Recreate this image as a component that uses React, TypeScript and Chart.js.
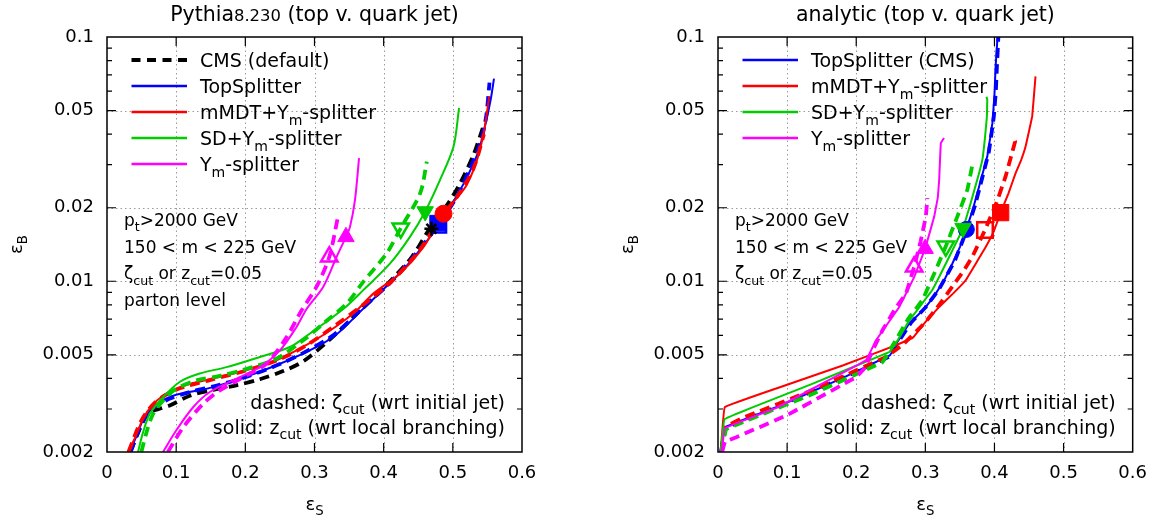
import React, { useEffect, useRef } from 'react';
import { Chart, registerables } from 'chart.js';
Chart.register(...registerables);

const FONT = "'DejaVu Sans', sans-serif";
Chart.defaults.font.family = FONT;

const BLUE = '#0000ff';
const RED = '#ff0000';
const GREEN = '#00cc00';
const MAGENTA = '#ff00ff';
const BLACK = '#000000';

// ---------- axes ----------
const X_TICKS = [0, 0.1, 0.2, 0.3, 0.4, 0.5, 0.6];
const X_TICK_LABELS = ['0', '0.1', '0.2', '0.3', '0.4', '0.5', '0.6'];
const X_GRID = [0.1, 0.2, 0.3, 0.4, 0.5];
const Y_TICKS = [0.002, 0.005, 0.01, 0.02, 0.05, 0.1];
const Y_TICK_LABELS = ['0.002', '0.005', '0.01', '0.02', '0.05', '0.1'];
const Y_GRID = [0.005, 0.01, 0.02, 0.05];
const Y_MINOR = [0.003, 0.004, 0.006, 0.007, 0.008, 0.009, 0.03, 0.04, 0.06, 0.07, 0.08, 0.09];

type Pt = [number, number];

// ---------- Pythia panel (eps_S, eps_B) ----------
const pyCmsDashed: Pt[] = [[0.034, 0.002], [0.045, 0.0024], [0.059, 0.00288], [0.075, 0.003], [0.0907, 0.0031], [0.1196, 0.0034], [0.1486, 0.00357], [0.187, 0.00375], [0.221, 0.00397], [0.2547, 0.00429], [0.2837, 0.0047], [0.32, 0.0057], [0.36, 0.0073], [0.40, 0.0094], [0.44, 0.0125], [0.467, 0.0165], [0.49, 0.0202], [0.51, 0.025], [0.53, 0.033], [0.544, 0.043]];
const pyTopSolid: Pt[] = [[0.0327, 0.002], [0.042, 0.0023], [0.052, 0.0027], [0.0665, 0.00305], [0.08, 0.00325], [0.1, 0.00343], [0.149, 0.00366], [0.197, 0.00403], [0.245, 0.00453], [0.293, 0.00521], [0.33, 0.006], [0.368, 0.0076], [0.40, 0.0093], [0.43, 0.0113], [0.46, 0.0143], [0.478, 0.0168], [0.50, 0.021], [0.52, 0.0265], [0.537, 0.034], [0.548, 0.045], [0.555, 0.056], [0.5595, 0.0676]];
const pyTopDashed: Pt[] = [[0.034, 0.002], [0.05, 0.0026], [0.065, 0.003], [0.09, 0.0033], [0.12, 0.00352], [0.16, 0.00375], [0.2, 0.00405], [0.25, 0.00458], [0.29, 0.0052], [0.33, 0.0061], [0.37, 0.0078], [0.41, 0.0099], [0.445, 0.0128], [0.48, 0.0172], [0.505, 0.022], [0.525, 0.029], [0.54, 0.037], [0.548, 0.047], [0.553, 0.065]];
const pyMmdtSolid: Pt[] = [[0.0303, 0.002], [0.041, 0.0023], [0.052, 0.00273], [0.065, 0.0031], [0.081, 0.0034], [0.1, 0.00363], [0.1245, 0.00383], [0.149, 0.00397], [0.197, 0.00429], [0.245, 0.00475], [0.293, 0.00558], [0.33, 0.0065], [0.361, 0.0076], [0.385, 0.0089], [0.4237, 0.01076], [0.4575, 0.0138], [0.4865, 0.0189], [0.505, 0.0218], [0.52, 0.0248], [0.535, 0.0314], [0.545, 0.041], [0.5526, 0.0571]];
const pyMmdtDashed: Pt[] = [[0.031, 0.002], [0.05, 0.0027], [0.07, 0.0032], [0.1, 0.0036], [0.15, 0.00395], [0.2, 0.0043], [0.25, 0.0048], [0.29, 0.0055], [0.33, 0.0066], [0.37, 0.008], [0.41, 0.0099], [0.45, 0.0132], [0.485, 0.0185], [0.51, 0.023], [0.53, 0.029], [0.545, 0.04]];
const pySdSolid: Pt[] = [[0.0448, 0.002], [0.052, 0.0024], [0.0617, 0.00286], [0.081, 0.00335], [0.105, 0.00387], [0.134, 0.00419], [0.1728, 0.00445], [0.221, 0.0049], [0.2645, 0.00538], [0.293, 0.0061], [0.3416, 0.0077], [0.3705, 0.0092], [0.409, 0.0118], [0.438, 0.0152], [0.46, 0.0193], [0.4815, 0.026], [0.501, 0.0356], [0.509, 0.0512]];
const pySdDashed: Pt[] = [[0.0497, 0.002], [0.057, 0.0024], [0.0665, 0.00286], [0.0834, 0.0033], [0.1, 0.00363], [0.129, 0.00393], [0.163, 0.0041], [0.197, 0.00434], [0.245, 0.00482], [0.2837, 0.00573], [0.315, 0.0068], [0.3465, 0.0081], [0.3705, 0.00994], [0.4043, 0.013], [0.4247, 0.0165], [0.4527, 0.0229], [0.4624, 0.0309]];
const pyYmSolid: Pt[] = [[0.081, 0.002], [0.1, 0.00245], [0.1245, 0.00305], [0.1486, 0.00352], [0.182, 0.00393], [0.221, 0.00445], [0.25, 0.00521], [0.274, 0.0065], [0.2886, 0.0077], [0.3127, 0.0095], [0.332, 0.0126], [0.3455, 0.0152], [0.3513, 0.0167], [0.3585, 0.0215], [0.3644, 0.0319]];
const pyYmDashed: Pt[] = [[0.088, 0.002], [0.11, 0.00252], [0.139, 0.00315], [0.163, 0.00357], [0.197, 0.00405], [0.2307, 0.0046], [0.2597, 0.00591], [0.2813, 0.0076], [0.303, 0.0095], [0.3214, 0.0126], [0.3335, 0.0181]];

// working points (markers), Pythia
const pyCmsPoint: Pt = [0.469, 0.0164];
const pyTopPoint: Pt = [0.478, 0.0173];
const pyTopPointDashed: Pt = [0.481, 0.0168];
const pyMmdtPoint: Pt = [0.4865, 0.0189];
const pySdPoint: Pt = [0.46, 0.0193];
const pySdPointDashed: Pt = [0.4247, 0.0165];
const pyYmPoint: Pt = [0.3455, 0.0152];
const pyYmPointDashed: Pt = [0.3214, 0.0126];

// ---------- analytic panel ----------
const anTopSolid: Pt[] = [[0.003, 0.002], [0.0097, 0.00252], [0.0843, 0.00305], [0.17, 0.0039], [0.249, 0.00498], [0.257, 0.0055], [0.2766, 0.0067], [0.298, 0.0077], [0.315, 0.0089], [0.328, 0.0102], [0.339, 0.0118], [0.35, 0.0138], [0.3593, 0.0163], [0.369, 0.0198], [0.3777, 0.0244], [0.3896, 0.0324], [0.397, 0.0444], [0.4, 0.058], [0.4017, 0.0759], [0.405, 0.105]];
const anTopDashed: Pt[] = [[0.005, 0.002], [0.011, 0.0025], [0.09, 0.0031], [0.17, 0.0039], [0.247, 0.0049], [0.26, 0.0056], [0.28, 0.0068], [0.30, 0.0078], [0.32, 0.0093], [0.343, 0.0122], [0.362, 0.0168], [0.372, 0.0205], [0.38, 0.025], [0.392, 0.034], [0.399, 0.047], [0.402, 0.06], [0.4035, 0.075], [0.406, 0.105]];
const anMmdtSolid: Pt[] = [[0.004, 0.002], [0.0098, 0.00305], [0.0843, 0.00364], [0.1804, 0.00452], [0.2574, 0.00547], [0.282, 0.00588], [0.30, 0.0068], [0.32, 0.00785], [0.34, 0.0089], [0.3584, 0.0101], [0.3873, 0.0138], [0.399, 0.016], [0.409, 0.0191], [0.42, 0.0228], [0.4306, 0.0277], [0.438, 0.031], [0.445, 0.0356], [0.4546, 0.0473], [0.4594, 0.069]];
const anMmdtDashed: Pt[] = [[0.005, 0.002], [0.01, 0.00252], [0.036, 0.00276], [0.1275, 0.0035], [0.243, 0.0049], [0.269, 0.00555], [0.30, 0.0068], [0.32, 0.008], [0.339, 0.0095], [0.355, 0.011], [0.368, 0.0126], [0.3863, 0.0162], [0.403, 0.021], [0.416, 0.0268], [0.426, 0.034], [0.43, 0.0375], [0.427, 0.039]];
const anSdSolid: Pt[] = [[0.004, 0.002], [0.0097, 0.00273], [0.131, 0.00375], [0.2477, 0.00513], [0.257, 0.00555], [0.2765, 0.0069], [0.291, 0.0078], [0.31, 0.0092], [0.3346, 0.0126], [0.3545, 0.0165], [0.3656, 0.0209], [0.3777, 0.0277], [0.383, 0.032], [0.386, 0.038], [0.389, 0.047], [0.3896, 0.0554], [0.3885, 0.057]];
const anSdDashed: Pt[] = [[0.005, 0.002], [0.012, 0.00248], [0.131, 0.0034], [0.238, 0.00467], [0.255, 0.0056], [0.275, 0.007], [0.296, 0.0084], [0.315, 0.0111], [0.3296, 0.0139], [0.345, 0.018], [0.3608, 0.0237], [0.368, 0.03], [0.366, 0.031]];
const anYmSolid: Pt[] = [[0.006, 0.002], [0.0097, 0.0025], [0.0843, 0.00303], [0.15, 0.0038], [0.214, 0.00475], [0.2286, 0.00573], [0.2622, 0.00785], [0.2838, 0.0104], [0.2997, 0.0136], [0.3128, 0.0184], [0.318, 0.022], [0.32, 0.026], [0.3224, 0.0368], [0.327, 0.0386]];
const anYmDashed: Pt[] = [[0.006, 0.002], [0.01, 0.0022], [0.0265, 0.0023], [0.0987, 0.00282], [0.1997, 0.00405], [0.212, 0.0044], [0.225, 0.0053], [0.238, 0.0063], [0.2574, 0.0078], [0.272, 0.0089], [0.2838, 0.01146], [0.293, 0.0145], [0.3007, 0.0184], [0.303, 0.0219]];

const anTopPoint: Pt = [0.3593, 0.0163];
const anMmdtPoint: Pt = [0.409, 0.0191];
const anMmdtPointDashed: Pt = [0.3863, 0.0162];
const anSdPoint: Pt = [0.3545, 0.0165];
const anSdPointDashed: Pt = [0.3296, 0.0139];
const anYmPoint: Pt = [0.2997, 0.0136];
const anYmPointDashed: Pt = [0.2838, 0.01146];

// ---------- text ----------
type Seg = { t: string; sub?: boolean; small?: boolean };
const SEG_Ym = (rest: string): Seg[] => [{ t: 'Y' }, { t: 'm', sub: true }, { t: rest }];

interface LineSpec { data: Pt[]; color: string; dashed: boolean; z: number }
interface MarkSpec { at: Pt; color: string; style: string; filled: boolean; rot: number; r: number; z: number }
interface LegendSpec { segs: Seg[]; color: string; dashed: boolean }
interface PanelSpec {
  left: number; width: number; yWidth: number; padRight: number; tension: number;
  title: Seg[]; legend: LegendSpec[]; notes: Seg[][];
  lines: LineSpec[]; marks: MarkSpec[];
}

const NOTES_COMMON: Seg[][] = [
  [{ t: 'p' }, { t: 't', sub: true }, { t: '>2000 GeV' }],
  [{ t: '150 < m < 225 GeV' }],
  [{ t: 'ζ' }, { t: 'cut', sub: true }, { t: ' or z' }, { t: 'cut', sub: true }, { t: '=0.05' }],
];
const BOTTOM_NOTES: Seg[][] = [
  [{ t: 'dashed: ζ' }, { t: 'cut', sub: true }, { t: ' (wrt initial jet)' }],
  [{ t: 'solid: z' }, { t: 'cut', sub: true }, { t: ' (wrt local branching)' }],
];

const PYTHIA: PanelSpec = {
  left: 0, width: 579, yWidth: 107, padRight: 57, tension: 0.3,
  title: [{ t: 'Pythia' }, { t: '8.230', small: true }, { t: ' (top v. quark jet)' }],
  legend: [
    { segs: [{ t: 'CMS (default)' }], color: BLACK, dashed: true },
    { segs: [{ t: 'TopSplitter' }], color: BLUE, dashed: false },
    { segs: [{ t: 'mMDT+' }, ...SEG_Ym('-splitter')], color: RED, dashed: false },
    { segs: [{ t: 'SD+' }, ...SEG_Ym('-splitter')], color: GREEN, dashed: false },
    { segs: SEG_Ym('-splitter'), color: MAGENTA, dashed: false },
  ],
  notes: [...NOTES_COMMON, [{ t: 'parton level' }]],
  lines: [
    { data: pyCmsDashed, color: BLACK, dashed: true, z: 9 },
    { data: pyTopDashed, color: BLUE, dashed: true, z: 8 },
    { data: pyTopSolid, color: BLUE, dashed: false, z: 7 },
    { data: pyMmdtDashed, color: RED, dashed: true, z: 6 },
    { data: pyMmdtSolid, color: RED, dashed: false, z: 5 },
    { data: pySdDashed, color: GREEN, dashed: true, z: 4 },
    { data: pySdSolid, color: GREEN, dashed: false, z: 3 },
    { data: pyYmDashed, color: MAGENTA, dashed: true, z: 2 },
    { data: pyYmSolid, color: MAGENTA, dashed: false, z: 1 },
  ],
  marks: [
    { at: pyTopPoint, color: BLUE, style: 'rect', filled: true, rot: 0, r: 11, z: -1 },
    { at: pyTopPointDashed, color: BLUE, style: 'rect', filled: false, rot: 0, r: 9, z: -2 },
    { at: pyCmsPoint, color: BLACK, style: 'star', filled: false, rot: 0, r: 7, z: -3 },
    { at: pyMmdtPoint, color: RED, style: 'circle', filled: true, rot: 0, r: 8.5, z: -4 },
    { at: pySdPoint, color: GREEN, style: 'triangle', filled: true, rot: 180, r: 9.5, z: -5 },
    { at: pySdPointDashed, color: GREEN, style: 'triangle', filled: false, rot: 180, r: 9.5, z: -6 },
    { at: pyYmPoint, color: MAGENTA, style: 'triangle', filled: true, rot: 0, r: 9.5, z: -7 },
    { at: pyYmPointDashed, color: MAGENTA, style: 'triangle', filled: false, rot: 0, r: 9.5, z: -8 },
  ],
};

const ANALYTIC: PanelSpec = {
  left: 579, width: 579, yWidth: 139, padRight: 24, tension: 0.05,
  title: [{ t: 'analytic (top v. quark jet)' }],
  legend: [
    { segs: [{ t: 'TopSplitter (CMS)' }], color: BLUE, dashed: false },
    { segs: [{ t: 'mMDT+' }, ...SEG_Ym('-splitter')], color: RED, dashed: false },
    { segs: [{ t: 'SD+' }, ...SEG_Ym('-splitter')], color: GREEN, dashed: false },
    { segs: SEG_Ym('-splitter'), color: MAGENTA, dashed: false },
  ],
  notes: NOTES_COMMON,
  lines: [
    { data: anTopDashed, color: BLUE, dashed: true, z: 8 },
    { data: anTopSolid, color: BLUE, dashed: false, z: 7 },
    { data: anMmdtDashed, color: RED, dashed: true, z: 6 },
    { data: anMmdtSolid, color: RED, dashed: false, z: 5 },
    { data: anSdDashed, color: GREEN, dashed: true, z: 4 },
    { data: anSdSolid, color: GREEN, dashed: false, z: 3 },
    { data: anYmDashed, color: MAGENTA, dashed: true, z: 2 },
    { data: anYmSolid, color: MAGENTA, dashed: false, z: 1 },
  ],
  marks: [
    { at: anTopPoint, color: BLUE, style: 'circle', filled: true, rot: 0, r: 8, z: -1 },
    { at: anSdPoint, color: GREEN, style: 'triangle', filled: true, rot: 180, r: 9.5, z: -2 },
    { at: anSdPointDashed, color: GREEN, style: 'triangle', filled: false, rot: 180, r: 9.5, z: -3 },
    { at: anMmdtPoint, color: RED, style: 'rect', filled: true, rot: 0, r: 11.5, z: -4 },
    { at: anMmdtPointDashed, color: RED, style: 'rect', filled: false, rot: 0, r: 11, z: -5 },
    { at: anYmPoint, color: MAGENTA, style: 'triangle', filled: true, rot: 0, r: 9.5, z: -6 },
    { at: anYmPointDashed, color: MAGENTA, style: 'triangle', filled: false, rot: 0, r: 9.5, z: -7 },
  ],
};

// ---------- drawing helpers ----------
function segFont(s: Seg, size: number) {
  const sz = s.sub ? size * 0.74 : s.small ? size * 0.8 : size;
  return `${sz}px ${FONT}`;
}
function drawRich(ctx: CanvasRenderingContext2D, segs: Seg[], x: number, y: number, size: number, align: 'left' | 'center' | 'right') {
  let w = 0;
  for (const s of segs) { ctx.font = segFont(s, size); w += ctx.measureText(s.t).width; }
  let cx = align === 'left' ? x : align === 'center' ? x - w / 2 : x - w;
  ctx.textAlign = 'left';
  ctx.textBaseline = 'alphabetic';
  for (const s of segs) {
    ctx.font = segFont(s, size);
    ctx.fillText(s.t, cx, s.sub ? y + size * 0.3 : y);
    cx += ctx.measureText(s.t).width;
  }
}

const MAJ = 9;
const MIN = 5;
const TXT = 19;
const NOTE_TXT = 17;

function makePlugin(spec: PanelSpec) {
  return {
    id: 'panelDeco',
    beforeDatasetsDraw(chart: any) {
      const { ctx, chartArea: a, scales: { x, y } } = chart;
      ctx.save();
      ctx.strokeStyle = '#9a9a9a';
      ctx.lineWidth = 1;
      ctx.setLineDash([1.5, 3]);
      ctx.beginPath();
      for (const v of X_GRID) {
        const px = Math.round(x.getPixelForValue(v)) + 0.5;
        ctx.moveTo(px, a.top); ctx.lineTo(px, a.bottom);
      }
      for (const v of Y_GRID) {
        const py = Math.round(y.getPixelForValue(v)) + 0.5;
        ctx.moveTo(a.left, py); ctx.lineTo(a.right, py);
      }
      ctx.stroke();
      ctx.restore();
    },
    afterDraw(chart: any) {
      const { ctx, chartArea: a, scales: { x, y } } = chart;
      ctx.save();
      ctx.strokeStyle = '#000';
      ctx.lineWidth = 1.2;
      ctx.setLineDash([]);
      ctx.beginPath();
      for (const v of X_TICKS.slice(1, -1)) {
        const px = x.getPixelForValue(v);
        ctx.moveTo(px, a.bottom); ctx.lineTo(px, a.bottom - MAJ);
        ctx.moveTo(px, a.top); ctx.lineTo(px, a.top + MAJ);
      }
      for (const v of Y_TICKS.slice(1, -1)) {
        const py = y.getPixelForValue(v);
        ctx.moveTo(a.left, py); ctx.lineTo(a.left + MAJ, py);
        ctx.moveTo(a.right, py); ctx.lineTo(a.right - MAJ, py);
      }
      for (const v of Y_MINOR) {
        const py = y.getPixelForValue(v);
        ctx.moveTo(a.left, py); ctx.lineTo(a.left + MIN, py);
        ctx.moveTo(a.right, py); ctx.lineTo(a.right - MIN, py);
      }
      ctx.stroke();
      ctx.lineWidth = 1.5;
      ctx.strokeRect(a.left, a.top, a.right - a.left, a.bottom - a.top);

      ctx.fillStyle = '#000';
      const cxp = (a.left + a.right) / 2;
      drawRich(ctx, spec.title, cxp, 20.5, 20.5, 'center');
      drawRich(ctx, [{ t: 'ε' }, { t: 'S', sub: true }], cxp, 510, 18, 'center');
      ctx.save();
      ctx.translate(a.left - 90 + 5, (a.top + a.bottom) / 2);
      ctx.rotate(-Math.PI / 2);
      drawRich(ctx, [{ t: 'ε' }, { t: 'B', sub: true }], 0, 0, 18, 'center');
      ctx.restore();

      spec.legend.forEach((e, i) => {
        const cy = a.top + 23 + i * 26;
        ctx.save();
        ctx.strokeStyle = e.color;
        ctx.lineWidth = e.dashed ? 4 : 2.5;
        ctx.setLineDash(e.dashed ? [9, 6.5] : []);
        ctx.beginPath();
        ctx.moveTo(a.left + 24.5, cy); ctx.lineTo(a.left + 80, cy);
        ctx.stroke();
        ctx.restore();
        ctx.fillStyle = '#000';
        drawRich(ctx, e.segs, a.left + 93, cy + 6.8, TXT, 'left');
      });

      spec.notes.forEach((segs, i) => {
        drawRich(ctx, segs, a.left + 17, 226 + i * 26.7, NOTE_TXT, 'left');
      });
      BOTTOM_NOTES.forEach((segs, i) => {
        drawRich(ctx, segs, a.right - 17, 408.5 + i * 25, TXT, 'right');
      });
      ctx.restore();
    },
  };
}

function Panel({ spec }: { spec: PanelSpec }) {
  const ref = useRef<HTMLCanvasElement>(null);
  useEffect(() => {
    const lineSets = spec.lines.map((l) => ({
      data: l.data.map(([vx, vy]) => ({ x: vx, y: vy })),
      showLine: true,
      borderColor: l.color,
      backgroundColor: l.color,
      borderWidth: l.dashed ? 3.8 : 2,
      borderDash: l.dashed ? [10, 6] : [],
      pointRadius: 0,
      pointHoverRadius: 0,
      tension: spec.tension,
      fill: false,
      order: l.z,
    }));
    const markSets = spec.marks.map((m) => ({
      data: [{ x: m.at[0], y: m.at[1] }],
      showLine: false,
      pointStyle: m.style,
      pointRadius: m.r,
      pointHoverRadius: m.r,
      pointRotation: m.rot,
      pointBackgroundColor: m.filled ? m.color : 'rgba(255,255,255,0)',
      pointBorderColor: m.color,
      pointBorderWidth: m.style === 'star' ? 2.5 : m.filled ? 1 : 2.5,
      clip: false as any,
      order: m.z,
    }));
    const chart = new Chart(ref.current as HTMLCanvasElement, {
      type: 'scatter',
      data: { datasets: [...lineSets, ...markSets] as any },
      options: {
        animation: false,
        responsive: false,
        maintainAspectRatio: false,
        events: [],
        layout: { padding: { left: 0, right: spec.padRight, top: 37, bottom: 0 } },
        plugins: { legend: { display: false }, tooltip: { enabled: false }, title: { display: false } },
        scales: {
          x: {
            type: 'linear', min: 0, max: 0.6,
            afterBuildTicks: (s: any) => { s.ticks = X_TICKS.map((v) => ({ value: v })); },
            afterFit: (s: any) => { s.height = 70; },
            ticks: {
              callback: (_v: any, i: number) => X_TICK_LABELS[i],
              font: { family: FONT, size: 18 }, color: '#000', padding: 11,
              maxRotation: 0, autoSkip: false,
            },
            grid: { display: false, drawTicks: false },
            border: { display: false },
          },
          y: {
            type: 'logarithmic', min: 0.002, max: 0.1,
            afterBuildTicks: (s: any) => { s.ticks = Y_TICKS.map((v) => ({ value: v })); },
            afterFit: (s: any) => { s.width = spec.yWidth; },
            ticks: {
              callback: (_v: any, i: number) => Y_TICK_LABELS[i],
              font: { family: FONT, size: 18 }, color: '#000', padding: 13,
              autoSkip: false,
            },
            grid: { display: false, drawTicks: false },
            border: { display: false },
          },
        },
      } as any,
      plugins: [makePlugin(spec)],
    });
    return () => chart.destroy();
  }, []);
  return (
    <div style={{ position: 'absolute', left: spec.left, top: 0, width: spec.width, height: 522 }}>
      <canvas ref={ref} width={spec.width} height={522} style={{ width: spec.width, height: 522, display: 'block' }} />
    </div>
  );
}

export default function App() {
  return (
    <div style={{ position: 'fixed', left: 0, top: 0, width: 1158, height: 522, background: '#ffffff', overflow: 'hidden' }}>
      <Panel spec={PYTHIA} />
      <Panel spec={ANALYTIC} />
    </div>
  );
}
